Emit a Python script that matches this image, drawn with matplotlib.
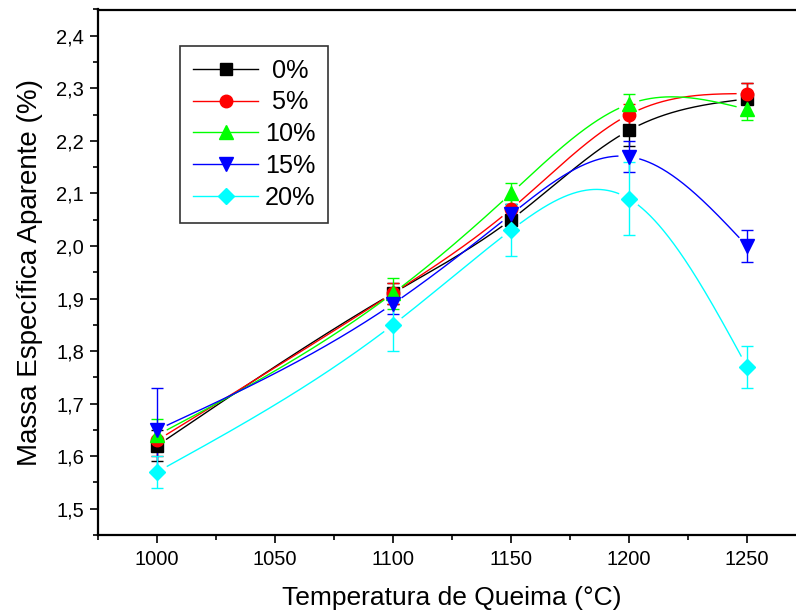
import numpy as np
import matplotlib
matplotlib.use("Agg")
import matplotlib.pyplot as plt
from matplotlib.lines import Line2D

plt.rcParams['font.family'] = ['Liberation Sans', 'DejaVu Sans']

temps = [1000, 1100, 1150, 1200, 1250]
labels = [' 0%', ' 5%', '10%', '15%', '20%']
y0 = [1.62, 1.91, 2.05, 2.22, 2.28]
y5 = [1.63, 1.91, 2.07, 2.25, 2.29]
y10 = [1.64, 1.91, 2.10, 2.27, 2.26]
y15 = [1.65, 1.89, 2.06, 2.17, 2.00]
y20 = [1.57, 1.85, 2.03, 2.09, 1.77]
e0 = [0.03, 0.02, 0.02, 0.03, 0.03]
e5 = [0.03, 0.02, 0.02, 0.02, 0.02]
e10 = [0.03, 0.03, 0.02, 0.02, 0.02]
e15 = [0.08, 0.02, 0.02, 0.03, 0.03]
e20 = [0.03, 0.05, 0.05, 0.07, 0.04]
yticks = [1.5, 1.6, 1.7, 1.8, 1.9, 2.0, 2.1, 2.2, 2.3, 2.4]
xticks = [1000, 1050, 1100, 1150, 1200, 1250]

series = [y0, y5, y10, y15, y20]
errs = [e0, e5, e10, e15, e20]
colors = ['#000000', '#FF0000', '#00FF00', '#0000FF', '#00FFFF']
markers = ['s', 'o', '^', 'v', 'D']
msizes = [8, 9, 9.5, 9.5, 8]


def natural_spline(x, y, xs):
    x = np.asarray(x, float); y = np.asarray(y, float)
    n = len(x)
    h = np.diff(x)
    A = np.zeros((n, n)); b = np.zeros(n)
    A[0, 0] = 1; A[-1, -1] = 1
    for i in range(1, n - 1):
        A[i, i - 1] = h[i - 1]
        A[i, i] = 2 * (h[i - 1] + h[i])
        A[i, i + 1] = h[i]
        b[i] = 6 * ((y[i + 1] - y[i]) / h[i] - (y[i] - y[i - 1]) / h[i - 1])
    M = np.linalg.solve(A, b)
    idx = np.clip(np.searchsorted(x, xs) - 1, 0, n - 2)
    xi, xi1 = x[idx], x[idx + 1]
    hi = h[idx]
    t1 = xi1 - xs; t2 = xs - xi
    return (M[idx] * t1 ** 3 / (6 * hi) + M[idx + 1] * t2 ** 3 / (6 * hi)
            + (y[idx] / hi - M[idx] * hi / 6) * t1
            + (y[idx + 1] / hi - M[idx + 1] * hi / 6) * t2)


fig = plt.figure(figsize=(7.96, 6.16), dpi=100)
ax = fig.add_axes([98 / 796, 1 - 535 / 616, (806 - 98) / 796, (535 - 9.5) / 616])
ax.set_xlim(975, 1275)
ax.set_ylim(1.45, 2.45)

xs = np.linspace(temps[0], temps[-1], 800)
gap = 11.0
handles = []
for ys, es, c, m, ms in zip(series, errs, colors, markers, msizes):
    sy = natural_spline(temps, ys, xs)
    pts = ax.transData.transform(np.column_stack([xs, sy]))
    mk = ax.transData.transform(np.column_stack([temps, ys]))
    mask = np.zeros(len(xs), bool)
    for p in mk:
        mask |= np.hypot(pts[:, 0] - p[0], pts[:, 1] - p[1]) < gap
    sy_plot = np.where(mask, np.nan, sy)
    ax.plot(xs, sy_plot, color=c, lw=1.0, zorder=2)
    ax.errorbar(temps, ys, yerr=es, fmt='none', ecolor=c, elinewidth=1.0,
                capsize=4, capthick=1.0, zorder=3)
    ax.plot(temps, ys, linestyle='none', marker=m, markersize=ms, color=c,
            markeredgecolor=c, zorder=4)
    handles.append(Line2D([], [], color=c, lw=1.0, marker=m, markersize=ms,
                          markeredgecolor=c))

ax.set_xticks(xticks)
ax.set_xticks([975, 1025, 1075, 1125, 1175, 1225, 1275], minor=True)
ax.set_yticks(yticks)
ax.set_yticks(np.arange(1.45, 2.451, 0.1), minor=True)
ax.set_yticklabels([f"{v:.1f}".replace('.', ',') for v in yticks])
ax.tick_params(axis='both', which='major', direction='out', length=6, width=1.2,
               labelsize=14.5)
ax.tick_params(axis='both', which='minor', direction='out', length=3.5, width=1.2)
ax.tick_params(axis='y', pad=4)
ax.tick_params(axis='x', pad=5)
for s in ['left', 'bottom', 'top']:
    ax.spines[s].set_linewidth(1.6)
ax.spines['right'].set_visible(False)

ax.set_xlabel('Temperatura de Queima (°C)', fontsize=19, labelpad=12)
ax.set_ylabel('Massa Específica Aparente (%)', fontsize=20)
ax.yaxis.set_label_coords(-0.078, 0.50)

leg = ax.legend(handles, labels, loc='upper left',
                bbox_to_anchor=(180 / 796, 1 - 46 / 616), bbox_transform=fig.transFigure,
                fontsize=18.2, frameon=True, fancybox=False, edgecolor='black',
                handlelength=2.6, handletextpad=0.25, labelspacing=0.31,
                borderpad=0.5, borderaxespad=0, markerfirst=True)
leg.get_frame().set_linewidth(1.2)

fig.savefig('out.png', dpi=100)
